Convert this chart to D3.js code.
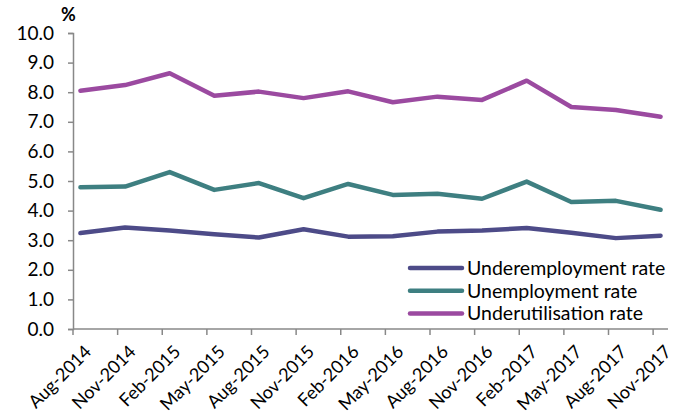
<!DOCTYPE html>
<html>
<head>
  <meta charset="utf-8" />
  <script src="https://d3js.org/d3.v7.min.js"></script>
</head>
<body style="margin:0;background:#fff">
<div id='graph'></div>
<script>
  // quarterly months, Aug-2014 .. Nov-2017
  const months = ['Aug-2014','Nov-2014','Feb-2015','May-2015','Aug-2015','Nov-2015','Feb-2016',
    'May-2016','Aug-2016','Nov-2016','Feb-2017','May-2017','Aug-2017','Nov-2017']
  const underemployment = [3.24,3.43,3.33,3.20,3.09,3.37,3.12,3.13,3.29,3.33,3.41,3.25,3.07,3.15]
  const unemployment = [4.79,4.81,5.30,4.70,4.93,4.42,4.90,4.53,4.57,4.40,4.98,4.29,4.33,4.03]
  const underutilisation = [8.05,8.24,8.64,7.88,8.02,7.80,8.03,7.66,7.85,7.74,8.39,7.50,7.40,7.17]
  const yTicks = [0,1,2,3,4,5,6,7,8,9,10]

  const series = [
    {name: 'Underemployment rate', values: underemployment, color: '#4d4b88'},
    {name: 'Unemployment rate', values: unemployment, color: '#3e7f81'},
    {name: 'Underutilisation rate', values: underutilisation, color: '#9b4aa0'}
  ]

  const width = 685, height = 412
  const plotLeft = 73, plotRight = 668, plotTop = 33, plotBottom = 329
  const font = 'Lato, sans-serif'
  const fs = 19

  const svg = d3.select('#graph').append('svg')
    .attr('width', width)
    .attr('height', height)

  // date axis in months: each label is 3 months apart, axis ends one month after last
  const x = d3.scaleLinear().domain([0, months.length * 3 - 2]).range([plotLeft, plotRight])
  const y = d3.scaleLinear().domain([0, 10]).range([plotBottom, plotTop])
  const px = i => x(i * 3 + 0.5)

  // y axis
  const yAxis = svg.append('g')
    .attr('transform', 'translate(' + plotLeft + ',0)')
    .call(d3.axisLeft(y).tickValues(yTicks).tickSize(5).tickPadding(14).tickFormat(d3.format('.1f')))
  yAxis.select('.domain').attr('stroke', '#888').attr('stroke-width', 1.5)
  yAxis.selectAll('.tick line').attr('stroke', '#888').attr('stroke-width', 1.5)
  yAxis.selectAll('text').attr('font-family', font).attr('font-size', fs).attr('fill', '#000')

  svg.append('text')
    .attr('x', 61).attr('y', 21)
    .attr('font-family', font).attr('font-size', 18).attr('font-weight', 'bold')
    .text('%')

  // x axis
  const xAxis = svg.append('g')
    .attr('transform', 'translate(0,' + plotBottom + ')')
  xAxis.append('line')
    .attr('x1', x.range()[0]).attr('x2', x.range()[1])
    .attr('stroke', '#888').attr('stroke-width', 1.5)
  xAxis.selectAll('.tk')
    .data(months)
    .enter().append('line')
    .attr('x1', (d, i) => x(i * 3)).attr('x2', (d, i) => x(i * 3))
    .attr('y1', 0).attr('y2', 6)
    .attr('stroke', '#888').attr('stroke-width', 1.5)
  xAxis.selectAll('text')
    .data(months)
    .enter().append('text')
    .attr('transform', (d, i) => 'translate(' + (px(i) + 3) + ',15) rotate(-45)')
    .attr('text-anchor', 'end')
    .attr('dy', '0.7em')
    .attr('font-family', font).attr('font-size', 18)
    .text(d => d)

  const line = d3.line()
    .x((d, i) => px(i))
    .y(d => y(d))

  svg.selectAll('.series')
    .data(series)
    .enter().append('path')
    .attr('fill', 'none')
    .attr('stroke', d => d.color)
    .attr('stroke-width', 4.5)
    .attr('stroke-linejoin', 'round')
    .attr('stroke-linecap', 'round')
    .attr('d', d => line(d.values))

  // legend
  const legend = svg.append('g')
  series.forEach((s, i) => {
    const ly = 268 + i * 22.7
    legend.append('line')
      .attr('x1', 410).attr('x2', 462).attr('y1', ly).attr('y2', ly)
      .attr('stroke', s.color).attr('stroke-width', 4.5).attr('stroke-linecap', 'round')
    legend.append('text')
      .attr('x', 467).attr('y', ly).attr('dy', '0.35em')
      .attr('font-family', font).attr('font-size', 19.5)
      .text(s.name)
  })
</script>
</body>
</html>
